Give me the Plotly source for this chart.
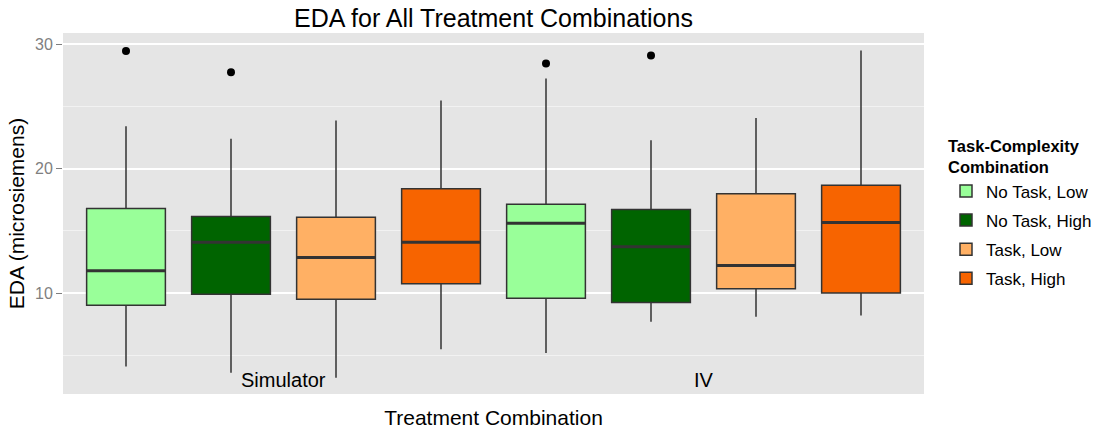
import plotly.graph_objects as go

groups = ["No Task, Low", "No Task, High", "Task, Low", "Task, High"]
colors = ["#99FF99", "#006400", "#FFB064", "#F76400"]
conditions = ["Simulator", "IV"]

# stats per group: [Simulator, IV]
lower = {"No Task, Low": [4.1, 5.2], "No Task, High": [3.6, 7.7],
         "Task, Low": [3.2, 8.1], "Task, High": [5.5, 8.2]}
q1 = {"No Task, Low": [9.03, 9.6], "No Task, High": [9.92, 9.25],
      "Task, Low": [9.52, 10.35], "Task, High": [10.75, 10.02]}
median = {"No Task, Low": [11.8, 15.62], "No Task, High": [14.1, 13.72],
          "Task, Low": [12.86, 12.22], "Task, High": [14.1, 15.67]}
q3 = {"No Task, Low": [16.8, 17.15], "No Task, High": [16.15, 16.72],
      "Task, Low": [16.1, 17.98], "Task, High": [18.38, 18.67]}
upper = {"No Task, Low": [23.4, 27.24], "No Task, High": [22.4, 22.29],
         "Task, Low": [23.87, 24.08], "Task, High": [25.47, 29.49]}
outliers = {"No Task, Low": [[29.46], [28.44]], "No Task, High": [[27.75], [29.09]],
            "Task, Low": [[], []], "Task, High": [[], []]}

BOX_W = 0.75
W, H = 1097, 437
ML, MR, MT, MB = 63, 0, 33, 43
PLOT_W = 861
AREA_W = W - ML - MR
DOM_END = PLOT_W / AREA_W

fig = go.Figure()
for gi, g in enumerate(groups):
    xs = [ci * len(groups) + gi + 1 for ci in range(len(conditions))]
    fig.add_trace(go.Box(
        x=xs, q1=q1[g], median=median[g], q3=q3[g],
        lowerfence=lower[g], upperfence=upper[g],
        width=BOX_W, fillcolor=colors[gi], name=g, legendgroup=g,
        line=dict(color="#333333", width=1.5), boxpoints=False,
        whiskerwidth=0,
    ))

# thicker median lines (ggplot style)
mx, my = [], []
for gi, g in enumerate(groups):
    for ci in range(len(conditions)):
        xc = ci * len(groups) + gi + 1
        mx += [xc - BOX_W / 2, xc + BOX_W / 2, None]
        my += [median[g][ci], median[g][ci], None]
fig.add_trace(go.Scatter(x=mx, y=my, mode="lines", showlegend=False,
                         line=dict(color="#333333", width=3), hoverinfo="skip"))

for gi, g in enumerate(groups):
    ox, oy = [], []
    for ci in range(len(conditions)):
        for v in outliers[g][ci]:
            ox.append(ci * len(groups) + gi + 1)
            oy.append(v)
    if ox:
        fig.add_trace(go.Scatter(x=ox, y=oy, mode="markers", showlegend=False,
                                 marker=dict(color="black", size=8)))

for ci, c in enumerate(conditions):
    fig.add_annotation(x=ci * len(groups) + (len(groups) + 1) / 2, y=3, text=c,
                       showarrow=False, font=dict(size=20, color="black"))

fig.update_layout(
    width=W, height=H,
    margin=dict(l=ML, r=MR, t=MT, b=MB),
    paper_bgcolor="white", plot_bgcolor="#E5E5E5",
    font=dict(family="Liberation Sans, Arial, sans-serif"),
    title=dict(text="EDA for All Treatment Combinations",
               x=(ML + PLOT_W / 2) / W, xanchor="center",
               y=1 - 18 / H, yanchor="middle",
               font=dict(size=25, color="black")),
    boxmode="overlay",
    legend=dict(title=dict(text="<b>Task-Complexity<br>Combination</b>", font=dict(size=16.5)),
                x=1.0, xanchor="right", y=0.5, yanchor="middle",
                font=dict(size=17, color="black"), tracegroupgap=4),
    xaxis=dict(domain=[0, DOM_END], range=[0.4, 8.6], showticklabels=False, showgrid=False,
               zeroline=False, ticks="", automargin=False,
               title=dict(text="Treatment Combination", font=dict(size=21, color="black"), standoff=16)),
    yaxis=dict(range=[1.9, 30.9], tickvals=[10, 20, 30], showgrid=True, gridcolor="white",
               gridwidth=1.5, zeroline=False, ticks="outside", ticklen=6, tickcolor="#7F7F7F",
               tickfont=dict(size=16, color="#7F7F7F"), automargin=False,
               minor=dict(tickvals=[5, 15, 25], showgrid=True, gridcolor="#F2F2F2", gridwidth=1, ticks=""),
               title=dict(text="EDA (microsiemens)", font=dict(size=21, color="black"), standoff=4)),
)
fig.write_html("out.html", config={"displayModeBar": False},
               post_script="document.body.style.margin='0';")
